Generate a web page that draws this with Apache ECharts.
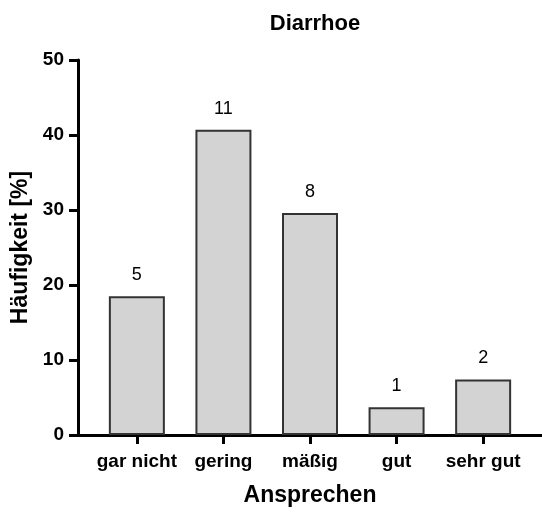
<!DOCTYPE html>
<html lang="de">
<head>
    <meta charset="UTF-8">
    <script src="https://cdn.jsdelivr.net/npm/echarts@6/dist/echarts.min.js"></script>
    <title>Diarrhoe</title>
    <style>
        html, body { margin: 0; padding: 0; background: #fff; }
        #main { width: 542px; height: 512px; }
    </style>
</head>
<body>
<div id="main"></div>
<script>
    // Daten
    var categories = ['gar nicht', 'gering', 'mäßig', 'gut', 'sehr gut'];
    var percent = [18.5, 40.7, 29.6, 3.7, 7.4];
    var counts = [5, 11, 8, 1, 2];
    var yTicks = [0, 10, 20, 30, 40, 50];

    var font = '"Liberation Sans", Arial, Helvetica, sans-serif';

    var barData = [];
    for (var i = 0; i < categories.length; i++) {
        barData.push([i, percent[i]]);
    }

    var myChart = echarts.init(document.getElementById('main'));

    var option = {
        animation: false,
        title: {
            text: 'Diarrhoe',
            left: 310,
            textAlign: 'center',
            top: 8,
            textStyle: { fontFamily: font, fontSize: 22, fontWeight: 'bold', color: '#000' }
        },
        grid: { left: 78, right: 0, top: 60, bottom: 77 },
        xAxis: {
            type: 'value',
            min: -0.68,
            max: 4.68,
            splitLine: { show: false },
            name: 'Ansprechen',
            nameLocation: 'middle',
            nameGap: 49,
            nameTextStyle: { fontFamily: font, fontSize: 23, fontWeight: 'bold', color: '#000' },
            axisLine: { show: true, onZero: false, lineStyle: { color: '#000', width: 3 } },
            axisTick: {
                show: true, inside: false, length: 9,
                customValues: [0, 1, 2, 3, 4],
                lineStyle: { color: '#000', width: 3 }
            },
            axisLabel: {
                customValues: [0, 1, 2, 3, 4],
                margin: 17,
                fontFamily: font, fontSize: 19, fontWeight: 'bold', color: '#000',
                formatter: function (v) { return categories[Math.round(v)] || ''; }
            }
        },
        yAxis: {
            type: 'value',
            min: 0,
            max: 50,
            interval: 10,
            splitLine: { show: false },
            name: 'Häufigkeit [%]',
            nameLocation: 'middle',
            nameGap: 45,
            nameTextStyle: { fontFamily: font, fontSize: 23, fontWeight: 'bold', color: '#000' },
            axisLine: { show: true, onZero: false, lineStyle: { color: '#000', width: 3 } },
            axisTick: { show: true, length: 9, lineStyle: { color: '#000', width: 3 } },
            axisLabel: {
                margin: 14,
                fontFamily: font, fontSize: 19, fontWeight: 'bold', color: '#000',
                formatter: function (v) { return yTicks.indexOf(v) >= 0 ? String(v) : ''; }
            }
        },
        series: [{
            type: 'bar',
            barWidth: 56,
            data: barData,
            itemStyle: { color: '#d3d3d3', borderColor: '#333', borderWidth: 2 },
            label: {
                show: true,
                position: 'top',
                distance: 12,
                fontFamily: font, fontSize: 18, color: '#000',
                formatter: function (p) { return String(counts[p.dataIndex]); }
            }
        }]
    };

    myChart.setOption(option);
</script>
</body>
</html>
